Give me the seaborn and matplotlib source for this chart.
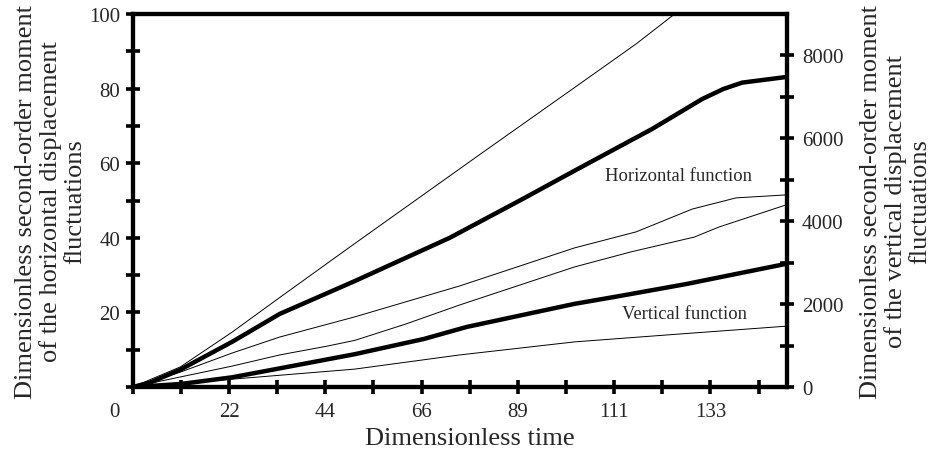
import matplotlib
matplotlib.use("Agg")
import matplotlib.pyplot as plt
import matplotlib.transforms as mtransforms
import seaborn as sns

# Horizontal displacement moments (left axis)
t_horiz = [0, 4, 10.9, 22.9, 33.9, 51.2, 73.1, 89.9, 101.9, 110.2, 119.8, 131.3, 136.2, 140.5, 150.6]
m_horiz = [0, 1.2, 4.6, 12.1, 19.6, 28.4, 40.0, 50.4, 58.0, 63.2, 69.2, 77.2, 79.9, 81.6, 83.1]

t_horiz_upper = [0, 11.0, 22.9, 33.9, 51.0, 66.1, 80.6, 101.9, 116.1, 124.4, 128.0]
m_horiz_upper = [0, 5.4, 14.7, 24.0, 38.3, 50.8, 62.8, 80.3, 92.0, 99.5, 102.5]

t_horiz_lower = [0, 11.0, 22.9, 33.9, 51.2, 75.4, 101.9, 116.1, 129.0, 139.1, 150.6]
m_horiz_lower = [0, 4.0, 9.1, 13.4, 18.8, 27.1, 37.3, 41.6, 47.7, 50.7, 51.5]

# Vertical displacement moments (right axis)
t_vert = [0, 11.0, 22.9, 33.9, 51.2, 67.2, 77.0, 101.9, 112.3, 127.6, 150.6]
m_vert = [0, 72, 234, 450, 792, 1161, 1449, 2007, 2196, 2484, 2970]

t_vert_upper = [0, 11.0, 22.9, 33.9, 45.0, 51.2, 63.0, 75.4, 101.9, 114.8, 129.5, 135.2, 150.6]
m_vert_upper = [0, 243, 504, 774, 990, 1125, 1521, 1980, 2898, 3258, 3618, 3861, 4392]

t_vert_lower = [0, 11.0, 22.9, 51.2, 75.4, 101.9, 126.0, 150.6]
m_vert_lower = [0, 90, 189, 432, 774, 1089, 1278, 1467]

# Axis ticks
x_ticks = [k * 11.1 for k in range(14)]
x_labels = ["0", "", "22", "", "44", "", "66", "", "89", "", "111", "", "133", ""]
yl_ticks = list(range(0, 101, 10))
yl_labels = ["", "", "20", "", "40", "", "60", "", "80", "", "100"]
yr_ticks = list(range(0, 8001, 1000))
yr_labels = ["0", "", "2000", "", "4000", "", "6000", "", "8000"]

sns.set_style("ticks")
plt.rcParams["font.family"] = ["Liberation Serif", "DejaVu Serif"]

fig = plt.figure(figsize=(9.36, 4.56), dpi=100)
ax = fig.add_axes([0.1418, 0.1491, 0.6987, 0.8180])
ax2 = ax.twinx()

thick = 3.2
thin = 0.7
sns.lineplot(x=t_horiz, y=m_horiz, ax=ax, color="black", linewidth=thick, sort=False)
sns.lineplot(x=t_horiz_upper, y=m_horiz_upper, ax=ax, color="black", linewidth=thin, sort=False)
sns.lineplot(x=t_horiz_lower, y=m_horiz_lower, ax=ax, color="black", linewidth=thin, sort=False)
sns.lineplot(x=t_vert, y=m_vert, ax=ax2, color="black", linewidth=thick, sort=False)
sns.lineplot(x=t_vert_upper, y=m_vert_upper, ax=ax2, color="black", linewidth=thin, sort=False)
sns.lineplot(x=t_vert_lower, y=m_vert_lower, ax=ax2, color="black", linewidth=thin, sort=False)

ax.set_xlim(0, 150.8)
ax.set_ylim(0, 100)
ax2.set_ylim(0, 9000)

for a in (ax, ax2):
    for s in a.spines.values():
        s.set_linewidth(3.0)
        s.set_color("black")
        s.set_visible(True)

ax.set_xticks(x_ticks)
ax.set_xticklabels(x_labels)
ax.set_yticks(yl_ticks)
ax.set_yticklabels(yl_labels)
ax2.set_yticks(yr_ticks)
ax2.set_yticklabels(yr_labels)

ax.tick_params(axis="both", direction="inout", length=10, width=2.6, labelsize=15, color="black")
ax.tick_params(axis="x", pad=6)
ax.tick_params(axis="y", pad=4)
ax2.tick_params(axis="y", direction="inout", length=10, width=2.6, labelsize=15, pad=6, color="black")

# shift the origin label to the left of the corner
lbl0 = ax.get_xticklabels()[0]
lbl0.set_transform(lbl0.get_transform() + mtransforms.ScaledTranslation(-18 / 100, 0, fig.dpi_scale_trans))

label_kw = dict(fontsize=19, linespacing=1.12)
ax.set_xlabel("Dimensionless time", fontsize=19, labelpad=4)
ax.xaxis.label.set_x(0.5157)
ax.set_ylabel("Dimensionless second-order moment\nof the horizontal displacement\nfluctuations",
              labelpad=2, **label_kw)
ax2.set_ylabel("Dimensionless second-order moment\nof the vertical displacement\nfluctuations",
               labelpad=12, rotation=90, va="top", **label_kw)

ax.text(125.8, 56.6, "Horizontal function", fontsize=13.4, ha="center", va="center")
ax.text(127.2, 19.6, "Vertical function", fontsize=13.4, ha="center", va="center")

for line in ax.get_lines() + ax2.get_lines():
    line.set_solid_capstyle("butt")
    line.set_solid_joinstyle("round")

fig.savefig("out.png", dpi=100)
